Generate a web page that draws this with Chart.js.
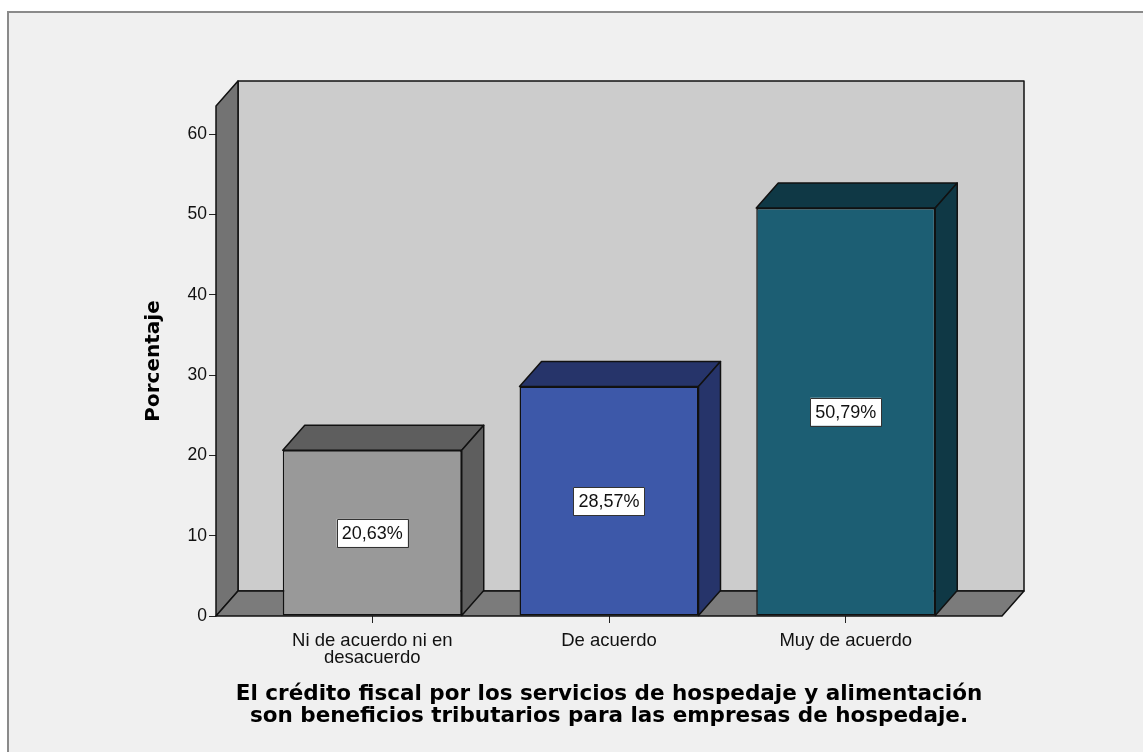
<!DOCTYPE html>
<html>
<head>
<meta charset="utf-8">
<script src="https://cdn.jsdelivr.net/npm/chart.js@4"></script>
<style>
  body { margin: 0; background: #ffffff; }
  #chart { display: block; }
</style>
</head>
<body>
<canvas id="chart" width="1143" height="752"></canvas>
<script>
/* --------------- Data --------------------- */
const categories = ["Ni de acuerdo ni en desacuerdo", "De acuerdo", "Muy de acuerdo"];
const tickLabels = [["Ni de acuerdo ni en", "desacuerdo"], "De acuerdo", "Muy de acuerdo"];
const percentages = [20.63, 28.57, 50.79];
const valueLabels = ["20,63%", "28,57%", "50,79%"];
const yTicks = [0, 10, 20, 30, 40, 50, 60];

/* --------------- Colors --------------------- */
const frontColors = ["#999999", "#3d58a9", "#1c5e73"];
const darkColors = ["#5e5e5e", "#26346a", "#0f3845"];

// depth of the fake 3d effect
const DX = 22;
const DY = -25;

function poly(ctx, pts, fill) {
  ctx.beginPath();
  ctx.moveTo(pts[0][0], pts[0][1]);
  for (let i = 1; i < pts.length; i++) ctx.lineTo(pts[i][0], pts[i][1]);
  ctx.closePath();
  ctx.fillStyle = fill;
  ctx.fill();
  ctx.stroke();
}

/* --------------- Panel + walls --------------------- */
const panelPlugin = {
  id: "panel",
  beforeDraw(chart) {
    const ctx = chart.ctx;
    ctx.save();
    ctx.fillStyle = "#ffffff";
    ctx.fillRect(0, 0, chart.width, chart.height);
    ctx.fillStyle = "#f0f0f0";
    ctx.fillRect(8, 12, chart.width, chart.height);
    ctx.strokeStyle = "#8a8a8a";
    ctx.lineWidth = 2;
    ctx.beginPath();
    ctx.moveTo(8, chart.height);
    ctx.lineTo(8, 12);
    ctx.lineTo(chart.width, 12);
    ctx.stroke();
    ctx.restore();
  },
  beforeDatasetsDraw(chart) {
    const { left, right, top, bottom } = chart.chartArea;
    const ctx = chart.ctx;
    ctx.save();
    ctx.strokeStyle = "#111111";
    ctx.lineWidth = 1.5;
    ctx.lineJoin = "round";
    // back wall
    poly(ctx, [[left + DX, top + DY], [right + DX, top + DY], [right + DX, bottom + DY], [left + DX, bottom + DY]], "#cccccc");
    // left wall
    poly(ctx, [[left, bottom], [left, top], [left + DX, top + DY], [left + DX, bottom + DY]], "#737373");
    // floor
    poly(ctx, [[left, bottom], [right, bottom], [right + DX, bottom + DY], [left + DX, bottom + DY]], "#7b7b7b");
    ctx.restore();
  },
  afterDatasetsDraw(chart) {
    const ctx = chart.ctx;
    const meta = chart.getDatasetMeta(0);
    ctx.save();
    ctx.strokeStyle = "#111111";
    ctx.lineWidth = 1.5;
    ctx.lineJoin = "round";
    meta.data.forEach((bar, i) => {
      const { x, y, base, width } = bar.getProps(["x", "y", "base", "width"], true);
      const l = x - width / 2;
      const r = x + width / 2;
      // top face
      poly(ctx, [[l, y], [r, y], [r + DX, y + DY], [l + DX, y + DY]], darkColors[i]);
      // side face
      poly(ctx, [[r, y], [r, base], [r + DX, base + DY], [r + DX, y + DY]], darkColors[i]);
    });
    // value labels
    ctx.font = "18px 'Liberation Sans', Arial, sans-serif";
    ctx.textAlign = "center";
    ctx.textBaseline = "middle";
    meta.data.forEach((bar, i) => {
      const { x, y, base } = bar.getProps(["x", "y", "base"], true);
      const cy = (y + base) / 2;
      const w = ctx.measureText(valueLabels[i]).width + 10;
      const h = 28;
      ctx.fillStyle = "#ffffff";
      ctx.fillRect(x - w / 2, cy - h / 2, w, h);
      ctx.strokeStyle = "#333333";
      ctx.lineWidth = 1;
      ctx.strokeRect(Math.round(x - w / 2) + 0.5, Math.round(cy - h / 2) + 0.5, Math.round(w), h);
      ctx.fillStyle = "#111111";
      ctx.fillText(valueLabels[i], x, cy + 1);
    });
    ctx.restore();
  }
};

/* --------------- Chart --------------------- */
new Chart(document.getElementById("chart"), {
  type: "bar",
  plugins: [panelPlugin],
  data: {
    labels: categories,
    datasets: [
      {
        label: "Porcentaje",
        data: categories.map((c, i) => ({ x: i, y: percentages[i] })),
        backgroundColor: frontColors,
        borderColor: "#111111",
        borderWidth: 1.5,
        borderSkipped: false,
        barPercentage: 0.756,
        categoryPercentage: 1,
      },
    ],
  },
  options: {
    responsive: false,
    animation: false,
    layout: { padding: { top: 106, right: 141, left: 138, bottom: 10 } },
    plugins: {
      legend: { display: false },
      tooltip: { enabled: false },
    },
    scales: {
      x: {
        type: "linear",
        min: -0.66,
        max: 2.66,
        offset: false,
        afterBuildTicks: (scale) => {
          scale.ticks = categories.map((c, i) => ({ value: i }));
        },
        afterFit: (scale) => {
          scale.height = 752 - 616 - 10;
        },
        border: { display: false },
        grid: { display: true, offset: false, drawOnChartArea: false, drawTicks: true, tickLength: 7, color: "#222222", lineWidth: 1 },
        ticks: {
          autoSkip: false,
          maxRotation: 0,
          padding: 10,
          color: "#111111",
          font: { family: "'Liberation Sans', Arial, sans-serif", size: 18.5, lineHeight: 0.9 },
          callback: (value) => tickLabels[value],
        },
        title: {
          display: true,
          text: ["El crédito fiscal por los servicios de hospedaje y alimentación", "son beneficios tributarios para las empresas de hospedaje."],
          color: "#000000",
          font: { family: "'DejaVu Sans', sans-serif", size: 21.5, weight: "bold", lineHeight: 1.0 },
          padding: { top: 0, bottom: 15 },
        },
      },
      y: {
        min: 0,
        max: 63.5,
        afterBuildTicks: (scale) => {
          scale.ticks = yTicks.map((v) => ({ value: v }));
        },
        afterFit: (scale) => {
          scale.width = 216 - 138;
        },
        border: { display: false },
        grid: { display: true, drawOnChartArea: false, drawTicks: true, tickLength: 7, color: "#222222", lineWidth: 1 },
        ticks: {
          padding: 2,
          color: "#111111",
          font: { family: "'Liberation Sans', Arial, sans-serif", size: 17.5 },
        },
        title: {
          display: true,
          text: "Porcentaje",
          color: "#000000",
          font: { family: "'DejaVu Sans', sans-serif", size: 20, weight: "bold", lineHeight: 1.2 },
          padding: { top: 4, bottom: 4 },
        },
      },
    },
  },
});
</script>
</body>
</html>
